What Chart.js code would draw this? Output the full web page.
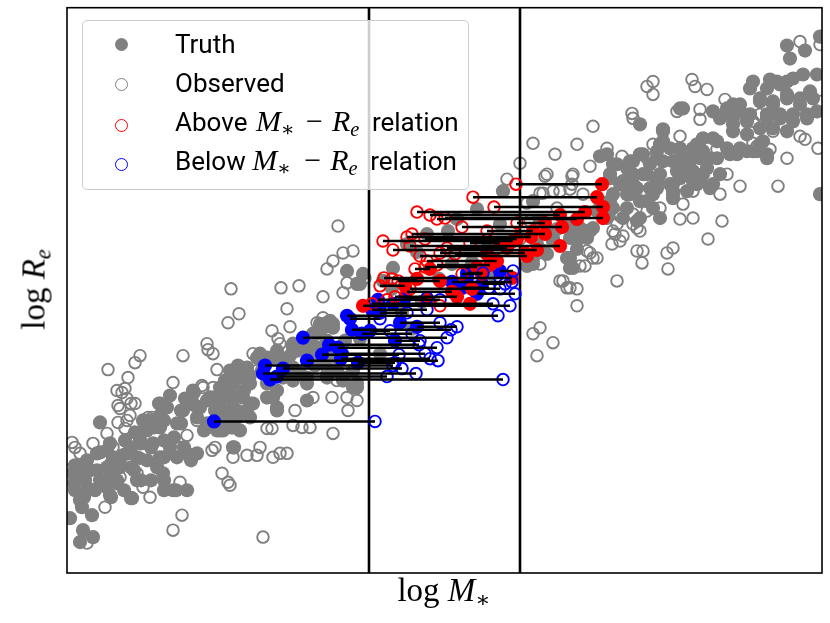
<!DOCTYPE html>
<html>
<head>
<meta charset="utf-8">
<script src="https://cdn.jsdelivr.net/npm/chart.js@4.4.0/dist/chart.umd.min.js"></script>
<style>
html,body{margin:0;padding:0;background:#fff;}
#wrap{position:relative;width:830px;height:623px;overflow:hidden;}
#c{position:absolute;left:0;top:0;}
.legend{position:absolute;left:82px;top:20px;width:385px;height:168px;border:1px solid #cccccc;border-radius:5px;background:rgba(255,255,255,0.8);}
.mk{position:absolute;width:13px;height:13px;border-radius:50%;box-sizing:border-box;}
.row{position:absolute;left:92px;height:30px;line-height:30px;font-family:Roboto,"Liberation Sans",sans-serif;font-size:26px;color:#000;white-space:nowrap;}
.mb{display:inline-block;line-height:0;}
.m{font-family:"Liberation Serif","DejaVu Serif",serif;font-style:italic;font-size:30px;line-height:0;}
.r{font-family:"Liberation Serif","DejaVu Serif",serif;font-size:30px;line-height:0;text-align:center;}
sub{font-size:0.68em;line-height:0;vertical-align:-0.25em;}
.ast{font-family:"DejaVu Serif",serif;font-style:normal;}
.xl{position:absolute;left:294px;width:300px;top:574px;text-align:center;font-family:"Liberation Serif",serif;font-size:33px;line-height:33px;color:#000;white-space:nowrap;}
.yl{position:absolute;left:-116px;top:273px;width:300px;text-align:center;font-family:"Liberation Serif",serif;font-size:33px;line-height:33px;color:#000;white-space:nowrap;transform:rotate(-90deg);transform-origin:150px 16.5px;}
</style>
</head>
<body>
<div id="wrap">
<canvas id="c" width="830" height="623"></canvas>
<div class="legend">
  <div class="mk" style="left:32px;top:17px;background:#808080;"></div>
  <div class="mk" style="left:32px;top:57px;border:1.7px solid #808080;"></div>
  <div class="mk" style="left:32px;top:98px;border:1.7px solid #ff0000;"></div>
  <div class="mk" style="left:32px;top:137px;border:1.7px solid #0000ff;"></div>
  <div class="row" style="top:8px;">Truth</div>
  <div class="row" style="top:47px;">Observed</div>
  <div class="row" style="top:86px;">Above&nbsp;<span class="mb m" style="width:41px;padding-left:2px;">M<sub class="ast">∗</sub></span><span class="mb r" style="width:35px;">−</span><span class="mb m" style="width:40px;">R<sub>e</sub></span>relation</div>
  <div class="row" style="top:125px;">Below&nbsp;<span class="mb m" style="width:43px;padding-left:0px;">M<sub class="ast">∗</sub></span><span class="mb r" style="width:35px;">−</span><span class="mb m" style="width:40px;">R<sub>e</sub></span>relation</div>
</div>
<div class="xl">log <i>M</i><sub class="ast">∗</sub></div>
<div class="yl">log <i>R</i><sub><i>e</i></sub></div>
</div>
<script>
// axis ranges (arbitrary units of log M* and log Re)
const xRange = [0, 7.55];
const yRange = [0, 5.67];
// observed-mass bin edges
const binEdges = [3.02, 4.53];

// Truth values of galaxies not in the bin: [logM, logRe]
const truthGray = [
[0.06,1.00],[0.13,0.73],[0.15,0.66],[0.25,0.58],[0.16,0.43],[0.26,0.36],[0.13,0.31],[0.03,0.55],
[0.33,1.51],[0.33,1.21],[0.43,1.30],[0.46,1.16],[0.40,1.06],[0.53,1.06],[0.43,0.78],[0.65,0.75],
[0.70,0.93],[0.60,1.20],[0.73,1.33],[0.80,1.43],[0.76,1.53],[0.93,1.70],[1.00,1.66],[1.16,1.63],
[1.10,1.50],[0.93,1.46],[0.86,1.30],[1.03,1.26],[1.20,1.20],[1.30,1.20],[0.93,1.16],[0.96,1.00],
[1.06,0.83],[1.20,0.83],[1.33,1.66],[1.40,1.73],[1.53,1.86],[1.46,1.76],[1.63,2.03],[1.73,1.96],
[1.80,2.06],[1.66,1.76],[1.60,1.63],[1.66,1.46],[1.66,1.26],[1.80,1.63],[1.86,1.70],[1.93,2.16],
[2.06,1.76],[2.10,1.63],[2.26,1.93],[2.40,1.90],[2.46,2.26],[2.60,2.33],[2.53,2.46],[2.63,2.53],
[2.90,1.90],[2.26,2.26],[2.13,2.16],[2.76,1.96],[2.60,2.06],[1.40,1.46],[1.53,1.43],[1.26,1.83],
[0.08,1.08],[0.23,1.03],[0.18,0.93],[0.28,0.83],[0.36,0.93],[0.50,0.93],
[1.76,2.05],[1.90,2.16],[2.06,2.16],[2.30,2.23],[2.46,2.40],[2.56,2.46],[2.66,2.50],[2.50,2.26],
[2.90,2.90],[2.96,3.00],[3.26,3.06],[2.70,2.16],[2.86,2.03],[3.13,2.20],[2.60,1.96],
[4.36,3.83],[4.33,3.50],[3.81,3.43],[2.93,2.90],[2.80,3.03],[3.16,2.93],[2.90,1.86],[2.76,1.93],
[4.66,3.73],[4.73,3.53],[4.86,3.36],[5.06,3.43],[5.20,3.36],[4.66,3.15],[4.80,3.20],[5.03,3.06],
[4.60,3.08],[5.46,3.80],[5.56,3.90],[5.40,3.56],[5.26,3.46],
[3.50,3.22],[4.05,3.12],[3.72,2.95],[3.35,2.62],[3.05,2.70],[3.45,2.45],
[5.33,4.18],[5.46,4.10],[5.66,4.13],[5.76,4.20],[5.90,4.16],[6.03,4.26],[6.13,4.16],[6.20,4.03],
[6.26,3.96],[6.06,3.83],[5.90,3.86],[5.80,4.00],[5.66,3.90],[5.60,3.80],[5.73,3.73],[5.86,3.66],
[5.93,3.56],[5.73,3.56],[5.56,3.56],[5.46,3.66],[5.43,4.00],[5.53,3.90],[5.33,3.73],[6.20,3.83],
[6.30,3.90],[5.13,3.46],[5.23,3.43],[5.00,3.50],[5.03,3.36],[4.86,3.33],[5.00,3.16],[5.06,3.06],
[4.76,3.23],[4.66,3.10],
[7.20,5.29],[7.38,5.24],[7.23,5.16],[7.53,5.38],[6.86,4.93],[7.03,4.95],[7.13,4.90],[7.26,4.96],
[7.36,5.00],[7.50,5.00],[6.93,4.76],[7.06,4.73],[7.20,4.76],[7.33,4.70],[7.46,4.76],[7.00,4.60],
[7.13,4.56],[7.26,4.53],[7.40,4.60],[7.20,4.43],[7.06,4.46],[6.93,4.46],[6.80,4.53],[6.66,4.56],
[6.60,4.66],[6.46,4.63],[6.73,4.70],[6.66,4.43],[6.80,4.40],[6.93,4.30],[7.00,4.20],[6.86,4.23],
[6.73,4.26],[6.63,4.20],[6.46,4.36],[6.36,4.36],[6.26,4.26],[6.33,4.16],[6.50,4.16],[6.40,4.06],
[6.53,4.00],[6.23,4.13],[5.93,4.30],[5.96,4.43],[6.13,4.66],[5.96,4.13],[6.10,4.03],[6.23,4.00],
[6.33,3.93],[6.43,3.86],[6.06,3.90],[5.93,4.00],[5.83,4.10],[5.73,4.20],[5.76,4.00],[5.70,3.86],
[5.83,3.86],[5.80,3.73],[5.63,3.80],[5.43,3.96],[5.60,4.06],[5.50,4.10],[5.40,4.20],[5.73,4.50],
[5.70,3.53],[5.60,3.66],[5.43,3.73],[5.30,3.63],[5.20,3.43],[5.13,3.36],[5.03,3.16],[6.06,3.76],
[7.53,3.80],
[0.92,1.70],[1.14,1.63],[1.27,1.81],[1.44,1.76],[1.54,1.86],[1.64,1.80],[1.77,1.83],[1.84,1.70],
[1.70,1.63],[1.57,1.56],[1.64,1.46],[1.67,1.26],[1.50,1.43],[1.37,1.43],[1.30,1.56],[1.14,1.50],
[0.97,1.53],[0.87,1.46],[0.77,1.43],[0.74,1.30],[0.64,1.26],[0.84,1.26],[0.97,1.33],[1.07,1.36],
[1.17,1.26],[1.10,1.16],[1.24,1.13],[0.97,1.16],[0.90,1.06],[0.80,1.13],[0.70,1.16],[0.64,1.06],
[0.54,1.16],[0.40,1.23],[0.30,1.20],[0.20,1.13],[0.10,1.06],[0.07,0.90],[0.17,0.96],[0.30,1.03],
[0.44,1.00],[0.40,0.86],[0.50,0.90],[0.57,0.83],[0.44,0.76],[0.17,0.76],[0.67,1.03],[0.74,0.93],
[0.97,0.93],[0.97,0.83],[1.09,0.83],[0.64,0.75],[0.84,0.93],
[2.26,2.30],[2.33,2.25],[2.43,2.20],[2.53,2.50],[2.60,2.51],[2.66,2.46],[2.50,2.40],[2.70,2.03],
[2.86,1.86],[1.93,2.20],[2.00,2.16],[2.10,2.23],[2.16,2.13],[2.26,2.06],[2.33,2.00],[2.40,1.96],
[2.16,1.96],[2.00,1.90],[1.83,1.90],[1.73,2.00],[1.66,1.90],[1.56,1.76],[1.43,1.76],[1.53,1.66],
[1.66,1.73],[1.76,1.76],[2.00,1.76],[2.10,1.66],[1.83,1.56],[1.70,1.56],[1.53,1.56],[1.40,1.50],
[1.56,1.43],[1.73,1.43],[2.40,1.73],[2.10,1.83],[2.43,2.13],
[6.83,4.86],[7.00,4.86],[7.10,4.93],[7.20,4.93],[6.93,4.73],[7.06,4.70],[7.20,4.80],[7.33,4.76],
[7.43,4.83],[7.50,4.63],[7.40,4.56],[7.26,4.60],[7.13,4.60],[7.00,4.56],[6.66,4.50],[6.66,4.70],
[6.53,4.56],[6.60,4.63],[6.73,4.63],[6.83,4.60],[6.96,4.33],[6.90,4.23],[7.00,4.16],[6.80,4.23],
[6.70,4.20],[6.60,4.26],[6.50,4.33],[6.30,4.30],[6.26,4.20],[6.36,4.23],[6.43,4.16],[6.20,4.16],
[6.13,4.26],[5.96,4.45],[5.96,4.33],[5.90,4.23],[5.63,4.13],[6.06,4.13],[6.16,4.06],[6.26,4.03],
[6.36,4.00],[6.46,3.90],[6.26,3.93],[6.13,3.96],[6.03,3.90],[5.90,3.93],[5.66,4.00],[5.56,3.93],
[5.86,3.80],[6.06,3.80],[6.16,4.66],
[0.08,0.83],[0.21,0.85],[0.33,0.93],[0.45,1.11],[0.58,1.33],[0.68,1.41],[0.83,1.53],[0.93,1.58],
[1.03,1.78],[1.18,1.75],[1.28,1.68],[1.48,1.63],[1.58,1.93],[1.71,2.08],[1.83,1.98],[1.95,2.03],
[2.18,2.01],[2.48,2.08],[2.58,2.15],[2.68,2.23],[2.78,2.33],[2.85,2.43],[2.93,2.35],[2.43,2.33],
[2.23,2.18],
[3.40,3.30],[3.60,3.40],[3.90,3.55],[4.10,3.65],[4.20,3.25],[3.85,3.10],[3.25,2.85],[3.55,2.72],
[3.95,2.90],[4.25,3.00],[4.70,3.30],[4.90,3.45],[5.10,3.25]
];

// Observed values of galaxies not in the bin: [logM, logRe]
const obsGray = [
[1.72,2.60],[1.61,2.51],[2.20,2.65],[2.23,2.47],[2.05,2.43],[2.11,2.35],[2.13,2.30],[1.40,2.30],
[1.41,2.24],[1.46,2.20],[1.16,2.18],[0.73,2.18],[0.68,2.11],[0.41,2.04],[0.61,1.96],[1.50,2.04],
[1.06,1.91],[0.58,1.85],[0.55,1.81],[0.60,1.75],[0.68,1.70],[0.51,1.68],[0.53,1.65],[0.63,1.58],
[0.81,1.56],[0.85,1.56],[0.60,1.53],[0.51,1.51],[0.58,1.45],[0.40,1.40],[0.26,1.30],[0.05,1.31],
[0.08,1.26],[0.13,1.20],[0.46,1.26],[0.55,1.18],[0.73,1.15],[1.03,1.20],[1.13,1.26],[1.30,1.53],
[1.20,1.38],[1.25,1.73],[1.36,1.86],[1.46,1.86],[1.53,1.78],[1.80,2.06],[1.86,2.20],[1.90,2.03],
[2.00,1.45],[2.05,1.45],[2.26,1.48],[2.35,1.46],[2.43,1.46],[2.28,1.63],[2.46,1.76],[2.65,1.76],
[2.80,1.76],[2.90,1.73],[2.81,1.63],[2.66,1.40],[2.56,2.56],[2.60,2.00],[2.70,1.93],[1.45,1.23],
[1.48,1.26],[1.66,1.16],[1.80,1.18],[1.90,1.18],[1.93,1.26],[2.06,1.16],[2.13,1.20],[2.20,1.20],
[1.55,1.00],[1.61,0.91],[1.63,0.88],[1.13,0.91],[0.76,0.86],[0.83,0.76],[0.53,0.96],[0.38,0.66],
[0.20,0.30],[1.06,0.43],[1.15,0.58],[1.96,0.36],[0.70,1.00],[0.01,1.03],
[2.71,3.48],[2.86,3.23],[2.76,3.21],[2.66,3.13],[2.60,3.05],[2.80,2.91],[2.76,2.81],[2.56,2.77],
[2.32,2.88],[2.14,2.86],[1.64,2.85],[2.50,2.51],
[4.78,3.98],[5.05,3.98],[4.86,3.83],[4.73,3.81],[5.03,3.85],[5.16,3.80],[4.90,3.66],[4.60,3.71],
[4.63,3.53],[4.73,3.41],[4.53,3.35],[5.20,3.23],[5.30,3.16],[5.13,3.08],[4.73,3.10],[4.93,2.93],
[5.10,2.85],[5.00,2.86],[5.50,2.93],[5.10,2.68],[4.73,2.46],[4.66,2.40],[4.86,2.31],[4.70,2.18],
[5.53,3.60],[5.46,3.43],[5.56,3.38],[2.98,2.96],
[4.66,4.31],[4.88,4.20],[5.10,4.30],[5.40,4.26],[5.23,4.08],[4.80,4.00],[5.06,4.00],[5.05,3.90],
[4.93,3.83],[4.76,3.81],[4.66,3.73],[5.53,3.58],[5.50,3.50],[5.66,3.50],[5.73,3.43],[5.48,3.40],
[5.53,3.33],[5.45,3.30],[5.70,3.23],[5.76,3.23],[5.75,3.11],[6.00,3.21],[6.06,3.26],[6.01,3.05],
[6.13,3.55],[6.26,3.56],[5.23,3.21],[5.18,3.08],[4.96,2.93],[5.03,2.86],
[5.86,4.93],[5.80,4.88],[5.86,4.80],[6.25,4.95],[6.28,4.88],[6.40,4.85],[6.58,4.75],[6.10,4.63],
[6.33,4.65],[6.33,4.55],[5.65,4.61],[5.66,4.56],[5.26,4.48],[5.55,4.18],[5.73,4.20],[6.13,4.38],
[6.50,4.25],[6.60,4.00],[6.73,3.88],[7.11,3.88],[6.53,3.80],[6.26,3.83],[6.16,3.70],[5.93,3.66],
[5.80,3.63],[5.70,3.46],[5.66,3.60],[6.55,3.53],[6.41,3.35],[5.26,3.16],
[7.50,4.63],[7.51,4.26],[7.53,4.73],[6.90,4.28],[7.03,4.25],[7.20,4.16],[7.33,4.38],[7.38,4.35],
[6.86,4.53],[7.06,4.43],[6.93,4.60],[7.33,5.33],[7.53,5.30],[4.53,4.11],[4.40,3.95],
[0.50,1.83],[0.64,1.70],[1.24,1.76],[1.35,1.88],[5.86,4.30],[5.80,4.16],[6.86,4.31]
];

// Galaxies in the bin, truth above the relation: [logRe, truth logM, observed logM]
const abovePairs = [
[3.90,5.35,4.49],[3.77,5.30,4.06],[3.67,5.36,4.27],[3.62,5.18,3.50],[3.59,4.93,3.63],
[3.56,5.36,3.78],[3.51,4.78,4.50],[3.43,4.66,4.20],[3.40,4.78,3.45],[3.37,4.64,3.40],
[3.33,4.46,3.16],[3.28,4.93,3.43],[3.24,4.70,3.26],[3.21,4.58,3.73],[3.18,4.60,3.53],
[3.31,4.33,4.03],[3.20,4.20,3.88],[3.07,4.10,3.58],[3.09,4.23,3.70],[2.96,4.45,3.17],
[2.93,3.73,3.31],[2.77,3.90,3.28],[2.88,3.38,3.13],[2.95,3.50,3.25],[3.05,3.63,3.48],
[2.70,4.03,3.05],[2.68,2.96,3.73],[2.85,4.05,3.43],
[3.55,5.10,3.70],[3.47,4.95,3.95],[3.35,4.50,3.58],[3.26,4.40,3.80],[3.13,4.30,3.60],
[3.00,4.15,3.95],[2.82,3.85,3.40],[2.74,3.60,3.20]
];

// Galaxies in the bin, truth below the relation: [logRe, truth logM, observed logM]
const belowPairs = [
[1.52,1.47,3.08],[1.94,2.03,4.36],[2.00,1.96,3.49],[2.08,1.98,3.26],[2.05,2.16,3.35],
[2.13,2.40,3.71],[2.15,2.74,3.63],[2.11,2.91,3.28],[2.20,2.75,3.58],[2.26,2.71,3.70],
[2.36,2.36,3.80],[2.44,2.85,3.84],[2.47,3.50,3.90],[2.51,3.33,3.73],[2.58,2.80,4.31],
[2.61,3.13,3.40],[2.68,3.13,4.43],[2.70,3.26,4.26],[2.74,3.11,3.73],[2.76,3.38,3.60],
[2.80,4.10,4.48],[2.85,4.05,4.33],[2.90,4.15,4.38],[2.96,4.00,4.33],[3.03,4.33,4.46],
[3.01,4.00,4.16],[2.33,3.28,3.53],[2.43,3.03,3.23],[2.55,2.83,3.13],
[2.64,3.05,3.60],[2.40,2.95,3.45],[2.29,2.62,3.52],[2.19,2.55,3.32],[1.97,2.10,3.20],
[2.86,3.95,4.22],[2.92,3.85,4.45]
];

const pt = a => ({x:a[0], y:a[1]});
const truthPts = (pairs) => pairs.map(p => ({x:p[1], y:p[0]}));
const obsPts = (pairs) => pairs.map(p => ({x:p[2], y:p[0]}));
const linkPts = [];
abovePairs.concat(belowPairs).forEach(p => {
  linkPts.push({x:p[1], y:p[0]}, {x:p[2], y:p[0]}, {x:p[2], y:null});
});

const filled = (color) => ({pointRadius:7.1, pointHoverRadius:7.1, pointBackgroundColor:color, pointBorderWidth:0, pointBorderColor:color, showLine:false, clip:0});
const open = (color) => ({pointRadius:5.8, pointHoverRadius:5.8, pointBackgroundColor:'rgba(0,0,0,0)', pointBorderWidth:1.9, pointBorderColor:color, showLine:false, clip:0});

const framePlugin = {
  id:'frame',
  afterDatasetsDraw(chart){
    const {ctx, chartArea:a} = chart;
    ctx.save();
    ctx.strokeStyle = '#000';
    ctx.lineWidth = 1.6;
    ctx.strokeRect(a.left, a.top, a.right - a.left, a.bottom - a.top);
    ctx.restore();
  }
};

new Chart(document.getElementById('c'), {
  type:'scatter',
  data:{
    datasets:[
      {label:'links', data:linkPts, showLine:true, spanGaps:false, borderColor:'#000', borderWidth:2.5, pointRadius:0, pointHoverRadius:0, order:1, clip:0},
      Object.assign({label:'Above obs', data:obsPts(abovePairs), order:2}, open('#ff0000')),
      Object.assign({label:'Below obs', data:obsPts(belowPairs), order:2}, open('#0000ff')),
      Object.assign({label:'Above truth', data:truthPts(abovePairs), order:3}, filled('#ff0000')),
      Object.assign({label:'Below truth', data:truthPts(belowPairs), order:3}, filled('#0000ff')),
      {label:'bin lo', data:[{x:binEdges[0], y:yRange[0]},{x:binEdges[0], y:yRange[1]}], showLine:true, borderColor:'#000', borderWidth:2.6, pointRadius:0, order:4, clip:0},
      {label:'bin hi', data:[{x:binEdges[1], y:yRange[0]},{x:binEdges[1], y:yRange[1]}], showLine:true, borderColor:'#000', borderWidth:2.6, pointRadius:0, order:4, clip:0},
      Object.assign({label:'Observed', data:obsGray.map(pt), order:5}, open('#808080')),
      Object.assign({label:'Truth', data:truthGray.map(pt), order:6}, filled('#808080'))
    ]
  },
  options:{
    responsive:false,
    animation:false,
    events:[],
    devicePixelRatio:1,
    layout:{padding:{left:67, right:8, top:6, bottom:50}},
    scales:{
      x:{type:'linear', min:xRange[0], max:xRange[1], display:false},
      y:{type:'linear', min:yRange[0], max:yRange[1], display:false}
    },
    plugins:{legend:{display:false}, tooltip:{enabled:false}}
  },
  plugins:[framePlugin]
});
</script>
</body>
</html>
